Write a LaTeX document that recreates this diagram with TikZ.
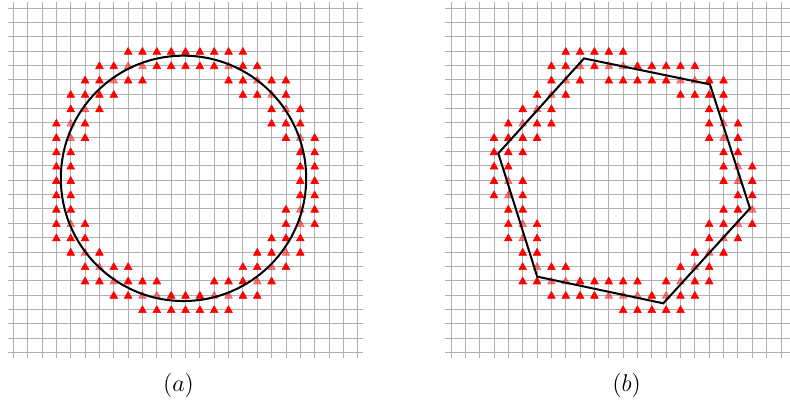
\documentclass[tikz,border=0pt]{standalone}
\usepackage{tikz}

\begin{document}
\begin{tikzpicture}[x=0.25cm, y=0.25cm,
		gridline/.style={gray!62, line width=0.45pt},
		hit/.style={fill=red, draw=red, line width=0.3pt, line join=round},
		onhit/.style={hit, opacity=0.5},
		curve/.style={black, line width=1pt}]
		\useasboundingbox (-0.93,-3.8) rectangle (54.13,24.56);
		
		% 左图：网格
		\foreach \i in {0,...,24} {
			\draw[gridline] (\i,-0.4) -- (\i,24.4);
			\draw[gridline] (-0.4,\i) -- (24.4,\i);
		}
		
		% 左图：离散点
		\foreach \r/\cs in {3/{8,...,16}, 4/{6,7,10,11,12,13,14,16,17},
			5/{5,6,8,9,15,16,18,19}, 6/{4,5,6,7,16,17,19}, 7/{4,6,18,20},
			8/{3,5,18,19,20}, 9/{3,5,19,21}, 10/{3,4,20,21}, 11/{3,4,20,21},
			12/{3,4,20,21}, 13/{3,4,20,21}, 14/{3,4,19,21}, 15/{3,5,19,21},
			16/{3,4,5,18,19,20}, 17/{4,6,17,18,20}, 18/{5,7,8,16,17,19},
			19/{5,6,8,9,10,14,15,16,18}, 20/{7,8,11,12,13,16,17}, 21/{9,...,15}}
		\foreach \c in \cs
		\filldraw[hit] (\c,24-\r) ++(0,0.25) -- ++(-0.27,-0.48) -- ++(0.54,0) -- cycle;
		
		% 曲线经过的点
		\foreach \r/\cs in {4/{8,9,15}, 5/{7,17}, 6/{18}, 7/{5,19}, 8/{4}, 9/{4,20},
			14/{20}, 15/{4,20}, 17/{5,19}, 18/{6,18}, 19/{7,17}, 20/{9,10,14,15}}
		\foreach \c in \cs
		\filldraw[onhit] (\c,24-\r) ++(0,0.25) -- ++(-0.27,-0.48) -- ++(0.54,0) -- cycle;
		
		% 圆
		\coordinate (O) at (11.86,12.13);
		\draw[curve] (O) circle[radius=8.55];
		
		% 右图
		\begin{scope}[shift={(30.5,0)}]
			\foreach \i in {0,...,24} {
				\draw[gridline] (\i,-0.4) -- (\i,24.4);
				\draw[gridline] (-0.4,\i) -- (24.4,\i);
			}
			
			\foreach \r/\cs in {3/{8,...,12}, 4/{7,8,10,13,14,15,16,17},
				5/{7,9,11,12,13,14,15,18,19}, 6/{6,8,16,17,18,19}, 7/{5,7,18,19},
				8/{4,6,7,18,20}, 9/{3,4,5,6,18,20}, 10/{3,4,5,19,20}, 11/{3,4,19,21},
				12/{3,5,19,21}, 13/{3,5,20,21}, 14/{4,5,19,20}, 15/{4,6,18,19,21},
				16/{4,6,18,20}, 17/{5,6,17,19}, 18/{5,7,8,16,18},
				19/{5,6,9,10,11,12,13,15,17,18}, 20/{7,8,9,10,14,16,17}, 21/{12,...,16}}
			\foreach \c in \cs
			\filldraw[hit] (\c,24-\r) ++(0,0.25) -- ++(-0.27,-0.48) -- ++(0.54,0) -- cycle;
			
			\foreach \r/\cs in {4/{9,11,12}, 5/{8,16,17}, 6/{7}, 7/{6}, 8/{5,19}, 9/{19},
				11/{20}, 12/{4,20}, 13/{4}, 14/{21}, 15/{5,20}, 16/{5,19}, 17/{18},
				18/{6,17}, 19/{7,8,16}, 20/{11,12,13,15}}
			\foreach \c in \cs
			\filldraw[onhit] (\c,24-\r) ++(0,0.25) -- ++(-0.27,-0.48) -- ++(0.54,0) -- cycle;
			
			% 多边形顶点
			\coordinate (P1) at (9.27,20.49);
			\coordinate (P2) at (18.05,18.68);
			\coordinate (P3) at (20.84,10.04);
			\coordinate (P4) at (14.80,3.42);
			\coordinate (P5) at (6.01,5.28);
			\coordinate (P6) at (3.30,13.87);
			\draw[curve] (P1) -- (P2) -- (P3) -- (P4) -- (P5) -- (P6) -- cycle;
		\end{scope}
		
		% 标注
		\node[font=\large] (la) at (11.51,-2.27) {$(a)$};
		\node[font=\large] (lb) at (42.74,-2.27) {$(b)$};
	\end{tikzpicture}
\end{document}
